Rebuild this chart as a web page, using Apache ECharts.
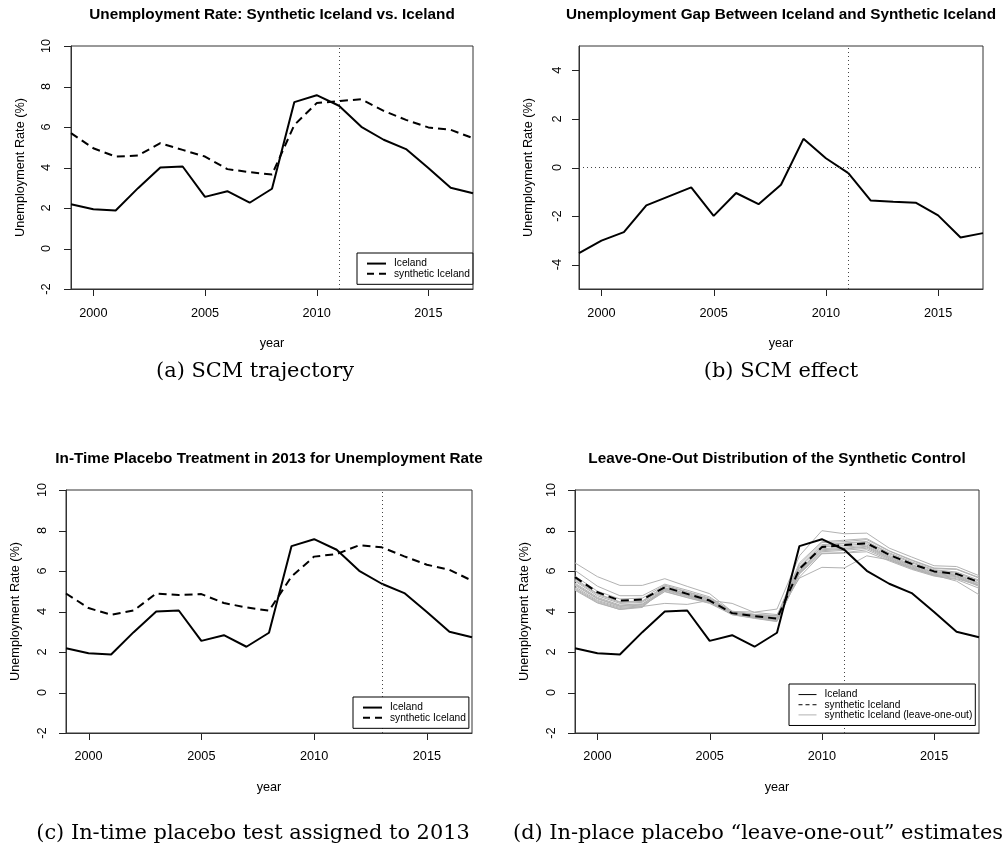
<!DOCTYPE html>
<html>
<head>
<meta charset="utf-8">
<title>Synthetic control: Iceland unemployment</title>
<script src="https://cdn.jsdelivr.net/npm/echarts@6/dist/echarts.min.js"></script>
<style>
  html, body { margin: 0; padding: 0; background: #fff; }
  #chart { width: 1002px; height: 852px; }
</style>
</head>
<body>
<div id="chart"></div>
<script>
// ---- data -------------------------------------------------------------
const years = [1999, 2000, 2001, 2002, 2003, 2004, 2005, 2006, 2007, 2008,
               2009, 2010, 2011, 2012, 2013, 2014, 2015, 2016, 2017];

// observed unemployment rate, Iceland (%)
const iceland = [2.19, 1.94, 1.88, 2.98, 4.00, 4.05, 2.55, 2.83, 2.26, 2.95,
                 7.23, 7.57, 7.05, 6.01, 5.37, 4.91, 3.98, 3.00, 2.73];

// synthetic Iceland, treatment in 2011
const synthetic = [5.70, 4.95, 4.54, 4.59, 5.20, 4.87, 4.54, 3.92, 3.77, 3.65,
                   6.10, 7.18, 7.28, 7.37, 6.80, 6.35, 5.98, 5.86, 5.45];

// gap: Iceland minus synthetic Iceland
const gap = [-3.52, -3.01, -2.66, -1.56, -1.19, -0.82, -1.99, -1.05, -1.51, -0.71,
             1.18, 0.38, -0.23, -1.36, -1.41, -1.45, -1.97, -2.88, -2.70];

// synthetic Iceland with the placebo treatment placed in 2013
const placeboSynthetic = [4.89, 4.17, 3.84, 4.05, 4.89, 4.81, 4.86, 4.42, 4.20, 4.04,
                          5.73, 6.71, 6.84, 7.27, 7.17, 6.72, 6.31, 6.06, 5.52];

// leave-one-out synthetic controls (one donor dropped each time)
const loo01 = [6.40, 5.72, 5.29, 5.29, 5.62, 5.24, 4.88, 4.00, 3.97, 4.12, 6.75, 7.99, 7.84, 7.87, 7.13, 6.69, 6.26, 6.22, 5.77];
const loo02 = [5.10, 4.45, 4.10, 4.25, 4.40, 4.35, 4.55, 4.40, 3.95, 3.85, 5.65, 6.18, 6.15, 6.75, 6.55, 6.15, 5.80, 5.50, 4.83];
const loo03 = [6.03, 5.25, 4.78, 4.78, 5.35, 5.05, 4.72, 3.98, 3.85, 3.78, 6.30, 7.40, 7.45, 7.55, 6.98, 6.52, 6.12, 6.08, 5.65];
const loo04 = [5.50, 4.78, 4.40, 4.45, 5.12, 4.80, 4.50, 3.90, 3.75, 3.62, 6.05, 7.10, 7.18, 7.28, 6.72, 6.28, 5.92, 5.80, 5.38];
const loo05 = [5.40, 4.70, 4.32, 4.38, 5.05, 4.75, 4.45, 3.88, 3.72, 3.58, 5.98, 7.05, 7.12, 7.22, 6.68, 6.24, 5.88, 5.76, 5.32];
const loo06 = [5.30, 4.62, 4.25, 4.32, 5.00, 4.70, 4.42, 3.86, 3.70, 3.55, 5.92, 7.00, 7.08, 7.18, 6.64, 6.20, 5.84, 5.72, 5.28];
const loo07 = [5.22, 4.55, 4.20, 4.28, 4.98, 4.68, 4.40, 3.85, 3.68, 3.52, 5.88, 6.95, 7.02, 7.12, 6.60, 6.16, 5.80, 5.68, 5.24];
const loo08 = [5.15, 4.50, 4.15, 4.24, 5.08, 4.82, 4.48, 3.84, 3.66, 3.50, 5.85, 6.88, 6.90, 7.05, 6.55, 6.12, 5.78, 5.62, 5.30];
const loo09 = [5.05, 4.42, 4.10, 4.20, 5.15, 4.90, 4.58, 3.95, 3.80, 3.70, 6.15, 7.25, 7.35, 7.42, 6.85, 6.40, 6.02, 5.90, 5.50];
const loo10 = [5.62, 4.88, 4.48, 4.52, 5.25, 4.95, 4.62, 3.96, 3.82, 3.72, 6.20, 7.30, 7.38, 7.46, 6.90, 6.45, 6.06, 5.95, 5.55];
const loo11 = [5.75, 5.00, 4.62, 4.66, 5.30, 4.98, 4.66, 4.02, 3.86, 3.80, 6.40, 7.45, 7.52, 7.60, 7.00, 6.55, 6.15, 6.10, 5.68];
const loo12 = [5.55, 4.85, 4.45, 4.50, 5.18, 4.85, 4.55, 3.92, 3.76, 3.66, 5.70, 6.85, 6.89, 6.95, 6.50, 6.08, 5.75, 5.58, 5.15];
const loo13 = [5.35, 4.65, 4.28, 4.35, 5.10, 4.78, 4.46, 3.90, 3.74, 3.60, 6.00, 7.20, 7.25, 7.35, 6.78, 6.32, 5.96, 5.84, 5.42];
const leaveOneOut = [loo01, loo02, loo03, loo04, loo05, loo06, loo07, loo08, loo09, loo10, loo11, loo12, loo13];

const treatmentYear = 2011;
const placeboYear = 2013;

// axis ticks
const xTicks = [2000, 2005, 2010, 2015];
const rateTicks = [-2, 0, 2, 4, 6, 8, 10];
const gapTicks = [-4, -2, 0, 2, 4];

// panel texts
const panelTitles = [
  'Unemployment Rate: Synthetic Iceland vs. Iceland',
  'Unemployment Gap Between Iceland and Synthetic Iceland',
  'In-Time Placebo Treatment in 2013 for Unemployment Rate',
  'Leave-One-Out Distribution of the Synthetic Control'
];
const captions = [
  '(a) SCM trajectory',
  '(b) SCM effect',
  '(c) In-time placebo test assigned to 2013',
  '(d) In-place placebo \u201cleave-one-out\u201d estimates'
];
const yName = 'Unemployment Rate (%)';
const xName = 'year';

// ---- styling helpers ----------------------------------------------------
const SANS = '"Liberation Sans", Arial, Helvetica, sans-serif';
const SERIF = '"DejaVu Serif", "Liberation Serif", serif';
const AXIS_FS = 12.7;
const FRAME = '#333';
const TICK_LEN = 7;

const pairs = vals => years.map((y, i) => [y, vals[i]]);

const grids = [
  { left: 71,  top: 46,  width: 402, height: 243 },
  { left: 579, top: 46,  width: 404, height: 243 },
  { left: 66,  top: 490, width: 406, height: 243 },
  { left: 575, top: 490, width: 404, height: 243 }
].map(g => Object.assign(g, {
  show: true, borderColor: FRAME, borderWidth: 1,
  containLabel: false, outerBoundsMode: 'none'
}));

function xAxisFor(i, labelMargin) {
  return {
    type: 'value', gridIndex: i, min: 1999, max: 2017, position: 'bottom',
    axisLine: { show: true, onZero: false, lineStyle: { color: FRAME, width: 1 } },
    splitLine: { show: false },
    axisTick: { show: false },
    axisLabel: { show: true, customValues: xTicks, margin: labelMargin, fontSize: AXIS_FS,
                 color: '#000', fontFamily: SANS, formatter: v => String(v) },
    name: xName, nameLocation: 'middle', nameGap: 48,
    nameTextStyle: { fontSize: AXIS_FS, color: '#000', fontFamily: SANS }
  };
}

function yAxisFor(i, lo, hi, ticks, labelMargin) {
  return {
    type: 'value', gridIndex: i, min: lo, max: hi, position: 'left',
    axisLine: { show: true, onZero: false, lineStyle: { color: FRAME, width: 1 } },
    splitLine: { show: false },
    axisTick: { show: false },
    axisLabel: { show: true, customValues: ticks, rotate: 90, margin: labelMargin, fontSize: AXIS_FS,
                 color: '#000', fontFamily: SANS, formatter: v => String(v) },
    name: yName, nameLocation: 'middle', nameGap: 44, nameRotate: 90,
    nameTextStyle: { fontSize: AXIS_FS, color: '#000', fontFamily: SANS }
  };
}

const dotted = { type: [1, 3], color: '#444', width: 1 };
function refLines(items) {
  return { silent: true, symbol: ['none', 'none'], label: { show: false },
           lineStyle: dotted, emphasis: { disabled: true }, animation: false, data: items };
}

function lineSeries(name, i, vals, extra) {
  return Object.assign({
    name, type: 'line', xAxisIndex: i, yAxisIndex: i,
    data: pairs(vals), symbol: 'none', showSymbol: false, smooth: false,
    silent: true, animation: false,
    lineStyle: { color: '#000', width: 2, type: 'solid' },
    itemStyle: { color: '#000' }
  }, extra || {});
}

const solidStyle = { color: '#000', width: 2, type: 'solid' };
const dashStyle = { color: '#000', width: 2, type: [8, 5] };

const series = [];
// (a) trajectory
series.push(lineSeries('Iceland', 0, iceland, { lineStyle: solidStyle }));
series.push(lineSeries('synthetic Iceland', 0, synthetic, {
  lineStyle: dashStyle, markLine: refLines([{ xAxis: treatmentYear }]) }));
// (b) gap
series.push(lineSeries('gap', 1, gap, {
  lineStyle: solidStyle,
  markLine: refLines([{ xAxis: treatmentYear }, { yAxis: 0 }]) }));
// (c) in-time placebo
series.push(lineSeries('Iceland', 2, iceland, { lineStyle: solidStyle }));
series.push(lineSeries('synthetic Iceland', 2, placeboSynthetic, {
  lineStyle: dashStyle, markLine: refLines([{ xAxis: placeboYear }]) }));
// (d) leave-one-out
leaveOneOut.forEach(vals => {
  series.push(lineSeries('synthetic Iceland (leave-one-out)', 3, vals, {
    z: 1, lineStyle: { color: '#b2b2b2', width: 1, type: 'solid' },
    itemStyle: { color: '#b2b2b2' } }));
});
series.push(lineSeries('synthetic Iceland', 3, synthetic, {
  z: 3, lineStyle: dashStyle, markLine: refLines([{ xAxis: treatmentYear }]) }));
series.push(lineSeries('Iceland', 3, iceland, { z: 3, lineStyle: solidStyle }));

function legendBox(left, top, data, itemWidth) {
  return {
    orient: 'vertical', left, top, data,
    itemWidth, itemHeight: 12.7, itemGap: 0,
    padding: [5.5, 3, 5.5, 9], selectedMode: false,
    borderColor: '#000', borderWidth: 1, borderRadius: 0, backgroundColor: '#fff',
    // only the line part of each key is shown
    itemStyle: { opacity: 0 },
    textStyle: { fontSize: 10.2, color: '#000', fontFamily: SANS, padding: [0, 0, 0, 3] },
    z: 10
  };
}

const legends = [
  legendBox(357, 253, [
    { name: 'Iceland', lineStyle: { width: 2, type: 'solid', color: '#000' } },
    { name: 'synthetic Iceland', lineStyle: { width: 2, type: [7, 5], color: '#000' } }
  ], 19),
  legendBox(353, 697, [
    { name: 'Iceland', lineStyle: { width: 2, type: 'solid', color: '#000' } },
    { name: 'synthetic Iceland', lineStyle: { width: 2, type: [7, 5], color: '#000' } }
  ], 19),
  legendBox(789, 684, [
    { name: 'Iceland', lineStyle: { width: 1, type: 'solid', color: '#000' } },
    { name: 'synthetic Iceland', lineStyle: { width: 1, type: [4, 3], color: '#000' } },
    { name: 'synthetic Iceland (leave-one-out)', lineStyle: { width: 1, type: 'solid', color: '#b2b2b2' } }
  ], 18)
];

function titleAt(text, x, top, style) {
  return { text, left: x, top, textAlign: 'center', padding: 0, textStyle: style };
}
const headStyle = { fontFamily: SANS, fontSize: 15.3, fontWeight: 'bold', color: '#000' };
const capStyle = { fontFamily: SERIF, fontSize: 20.9, fontWeight: 'normal', color: '#000' };

const titles = [
  titleAt(panelTitles[0], 272, 7, headStyle),
  titleAt(panelTitles[1], 781, 7, headStyle),
  titleAt(panelTitles[2], 269, 451, headStyle),
  titleAt(panelTitles[3], 777, 451, headStyle),
  titleAt(captions[0], 255, 361, capStyle),
  titleAt(captions[1], 781, 361, capStyle),
  titleAt(captions[2], 253, 823, capStyle),
  { text: captions[3], left: 513, top: 823, padding: 0, textStyle: capStyle }
];

const yAxes = [
  yAxisFor(0, -2, 10, rateTicks, 18),
  yAxisFor(1, -5, 5, gapTicks, 15),
  yAxisFor(2, -2, 10, rateTicks, 17),
  yAxisFor(3, -2, 10, rateTicks, 17)
];

const chart = echarts.init(document.getElementById('chart'), null, { renderer: 'canvas' });
chart.setOption({
  animation: false,
  backgroundColor: '#fff',
  title: titles,
  legend: legends,
  grid: grids,
  xAxis: [xAxisFor(0, 18), xAxisFor(1, 18), xAxisFor(2, 17), xAxisFor(3, 17)],
  yAxis: yAxes,
  series
});

// Outward tick marks, placed through each panel's own axis scales.
const tickMarks = [];
const panelYTicks = [rateTicks, gapTicks, rateTicks, rateTicks];
for (let i = 0; i < 4; i++) {
  const bottom = chart.convertToPixel({ yAxisIndex: i }, yAxes[i].min);
  const left = chart.convertToPixel({ xAxisIndex: i }, 1999);
  xTicks.forEach(v => {
    const x = Math.round(chart.convertToPixel({ xAxisIndex: i }, v)) + 0.5;
    tickMarks.push({ type: 'line', silent: true,
      shape: { x1: x, y1: bottom, x2: x, y2: bottom + TICK_LEN },
      style: { stroke: '#222', lineWidth: 1 } });
  });
  panelYTicks[i].forEach(v => {
    const y = Math.round(chart.convertToPixel({ yAxisIndex: i }, v)) + 0.5;
    tickMarks.push({ type: 'line', silent: true,
      shape: { x1: left - TICK_LEN, y1: y, x2: left, y2: y },
      style: { stroke: '#222', lineWidth: 1 } });
  });
}
chart.setOption({ graphic: tickMarks });
</script>
</body>
</html>
